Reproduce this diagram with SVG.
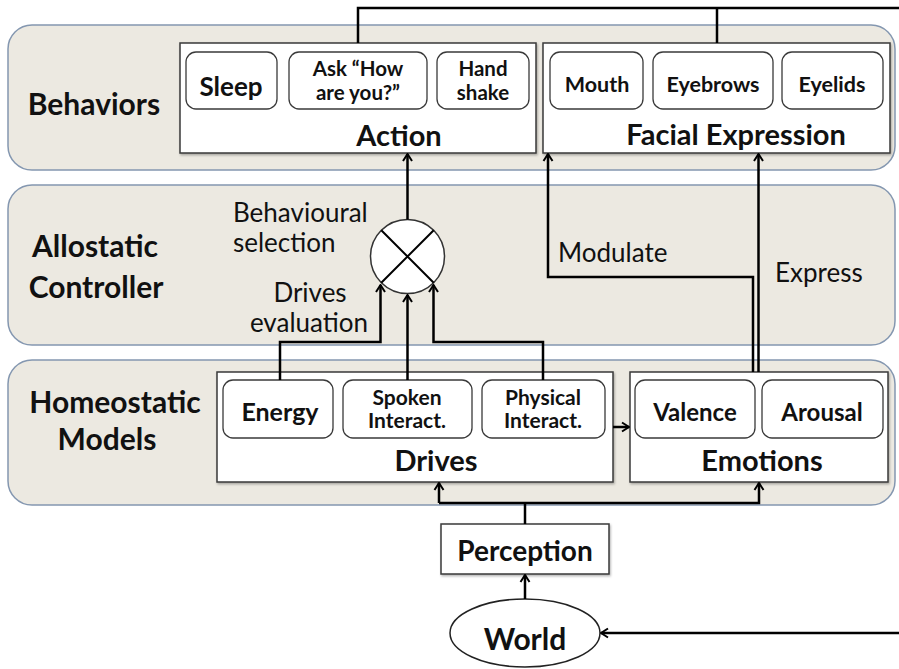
<svg xmlns="http://www.w3.org/2000/svg" width="899" height="669" viewBox="0 0 899 669">
<defs>
<marker id="ah" viewBox="0 0 12 12" refX="11" refY="6" markerWidth="12" markerHeight="12" orient="auto" markerUnits="userSpaceOnUse">
<path d="M4,1.5 L11,6 L4,10.5" fill="none" stroke="#000" stroke-width="2"/>
</marker>
<filter id="sh" x="-5%" y="-5%" width="110%" height="115%">
<feDropShadow dx="1" dy="1.5" stdDeviation="1" flood-color="#000" flood-opacity="0.3"/>
</filter>
</defs>
<style>
.band{fill:#ECE9E1;stroke:#8497B0;stroke-width:1.5}
.box{fill:#fff;stroke:#3a3a3a;stroke-width:1.5}
.item{fill:#fff;stroke:#3a3a3a;stroke-width:1.3}
.t{font-family:Lato,"Open Sans",sans-serif;font-weight:bold;fill:#111}
.r{font-family:Lato,"Open Sans",sans-serif;fill:#111}
.c{fill:none;stroke:#000;stroke-width:2.5}
.ca{fill:none;stroke:#000;stroke-width:2.5;marker-end:url(#ah)}
.m{text-anchor:middle}
</style>
<rect width="899" height="669" fill="#fff"/>
<g id="band-behaviors">
<rect class="band" x="8" y="25" width="887" height="145" rx="24"/>
<text class="t m" x="94" y="115" font-size="30">Behaviors</text>
</g>
<g id="band-allostatic">
<rect class="band" x="8" y="185" width="887" height="160" rx="24"/>
<text class="t m" x="95" y="257" font-size="30">Allostatic</text>
<text class="t m" x="96" y="298" font-size="30">Controller</text>
</g>
<g id="band-homeostatic">
<rect class="band" x="8" y="360" width="887" height="145" rx="24"/>
<text class="t m" x="115" y="413" font-size="30">Homeostatic</text>
<text class="t m" x="107" y="450" font-size="30">Models</text>
</g>
<g id="action">
<rect class="box" x="180" y="43" width="356" height="110" filter="url(#sh)"/>
<text class="t m" x="399" y="146" font-size="29">Action</text>
</g>
<g id="sleep">
<rect class="item" x="186" y="52" width="91" height="57" rx="10"/>
<text class="t m" x="231" y="96" font-size="26">Sleep</text>
</g>
<g id="ask">
<rect class="item" x="289" y="52" width="138" height="57" rx="10"/>
<text class="t m" x="358" y="76" font-size="20.5">Ask “How</text>
<text class="t m" x="358" y="100" font-size="20.5">are you?”</text>
</g>
<g id="handshake">
<rect class="item" x="437" y="52" width="92" height="57" rx="10"/>
<text class="t m" x="483" y="76" font-size="20.5">Hand</text>
<text class="t m" x="483" y="100" font-size="20.5">shake</text>
</g>
<g id="facial">
<rect class="box" x="543" y="43" width="347" height="110" filter="url(#sh)"/>
<text class="t m" x="736" y="145" font-size="29">Facial Expression</text>
</g>
<g id="mouth">
<rect class="item" x="550" y="52" width="93" height="57" rx="10"/>
<text class="t m" x="597" y="92" font-size="21.5">Mouth</text>
</g>
<g id="eyebrows">
<rect class="item" x="653" y="52" width="120" height="57" rx="10"/>
<text class="t m" x="713" y="92" font-size="21.5">Eyebrows</text>
</g>
<g id="eyelids">
<rect class="item" x="782" y="52" width="101" height="57" rx="10"/>
<text class="t m" x="832" y="92" font-size="21.5">Eyelids</text>
</g>
<g id="selector">
<circle cx="407.5" cy="256.5" r="37" fill="#fff" stroke="#333" stroke-width="1.5"/>
<path d="M381.3,230.3 L433.7,282.7 M433.7,230.3 L381.3,282.7" stroke="#000" stroke-width="2"/>
</g>
<g id="drives">
<rect class="box" x="217" y="372" width="396" height="110" filter="url(#sh)"/>
<text class="t m" x="436" y="471" font-size="29">Drives</text>
</g>
<g id="energy">
<rect class="item" x="223" y="380" width="110" height="58" rx="10"/>
<text class="t m" x="280" y="421" font-size="25">Energy</text>
</g>
<g id="spoken">
<rect class="item" x="343" y="380" width="129" height="58" rx="10"/>
<text class="t m" x="407" y="405" font-size="21">Spoken</text>
<text class="t m" x="407" y="428" font-size="21">Interact.</text>
</g>
<g id="physical">
<rect class="item" x="482" y="380" width="123" height="58" rx="10"/>
<text class="t m" x="543" y="405" font-size="21">Physical</text>
<text class="t m" x="543" y="428" font-size="21">Interact.</text>
</g>
<g id="emotions">
<rect class="box" x="630" y="372" width="258" height="110" filter="url(#sh)"/>
<text class="t m" x="762" y="471" font-size="29">Emotions</text>
</g>
<g id="valence">
<rect class="item" x="635" y="380" width="120" height="58" rx="10"/>
<text class="t m" x="695" y="421" font-size="24">Valence</text>
</g>
<g id="arousal">
<rect class="item" x="762" y="380" width="121" height="58" rx="10"/>
<text class="t m" x="822" y="421" font-size="24">Arousal</text>
</g>
<g id="perception">
<rect class="box" x="441" y="524" width="168" height="50" filter="url(#sh)"/>
<text class="t m" x="525" y="561" font-size="28">Perception</text>
</g>
<g id="world">
<ellipse cx="525" cy="633" rx="75" ry="34" fill="#fff" stroke="#222" stroke-width="1.5"/>
<text class="t m" x="525" y="650" font-size="30">World</text>
</g>
<g id="connectors">
<path class="c" d="M358,43 V8 H899"/>
<path class="c" d="M717,43 V8"/>
<path class="ca" d="M407.5,219.5 V154"/>
<path class="ca" d="M280,380 V342 H380.5 V285"/>
<path class="ca" d="M407.5,380 V295"/>
<path class="ca" d="M543,380 V342 H433.5 V285"/>
<path class="ca" d="M753,372 V277 H548 V154"/>
<path class="ca" d="M758.5,372 V154"/>
<path class="ca" d="M613,427 H629"/>
<path class="c" d="M525,524 V503"/>
<path class="ca" d="M439,503 H759 V483"/>
<path class="ca" d="M439,503 V483"/>
<path class="ca" d="M525,599 V575"/>
<path class="ca" d="M899,633 H601"/>
</g>
<g id="labels">
<text class="r" x="233" y="222" font-size="26">Behavioural</text>
<text class="r" x="233" y="252" font-size="26">selection</text>
<text class="r m" x="310" y="302" font-size="26">Drives</text>
<text class="r m" x="309" y="332" font-size="26">evaluation</text>
<text class="r" x="558" y="262" font-size="26">Modulate</text>
<text class="r" x="775" y="282" font-size="26">Express</text>
</g>
</svg>
